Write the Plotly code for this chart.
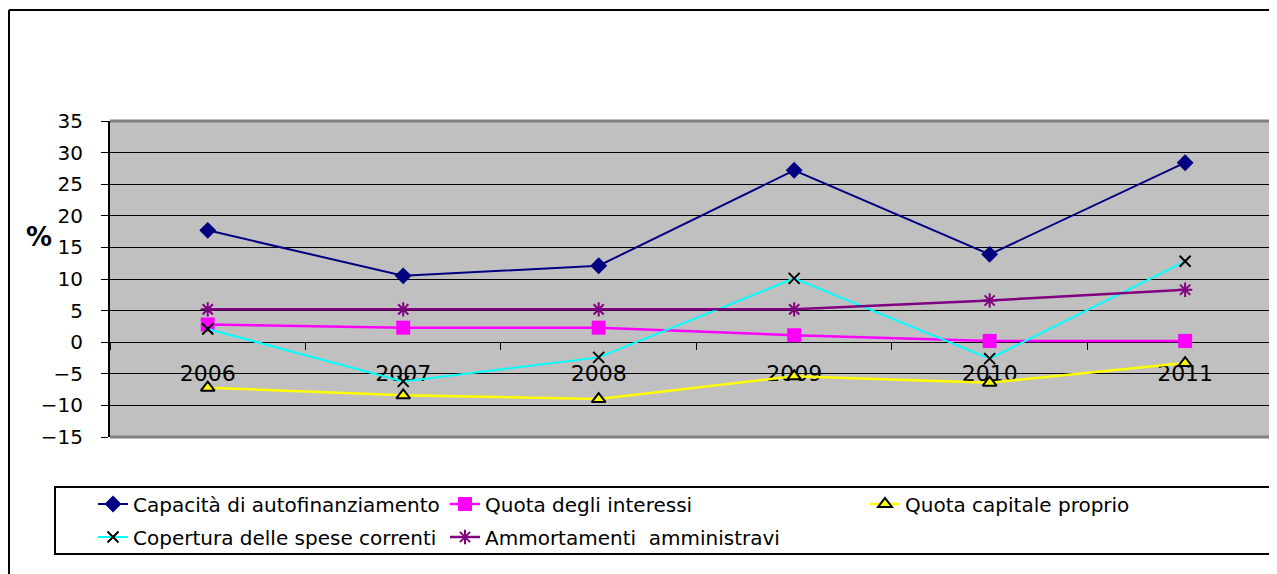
import plotly.graph_objects as go

years = ["2006", "2007", "2008", "2009", "2010", "2011"]
capacita = [17.7, 10.5, 12.1, 27.2, 13.9, 28.4]
quota_interessi = [2.8, 2.3, 2.3, 1.1, 0.2, 0.2]
quota_capitale = [-7.2, -8.4, -9.0, -5.4, -6.4, -3.3]
copertura = [2.1, -6.2, -2.4, 10.1, -2.6, 12.8]
ammortamenti = [5.2, 5.2, 5.2, 5.2, 6.6, 8.3]

y_min, y_max = -15, 35

# the page puts the figure 8px in from the top-left corner of the window
OFF = 8
W, H = 1277 - OFF, 574 - OFF
L, R, T, B = 102, 0, 113, 137
FONT = "DejaVu Sans"


def px(xs):
    return (xs - OFF - L) / (W - L - R)


def py(ys):
    return (H - B - (ys - OFF)) / (H - T - B)


def line_trace(y, name, color, width, symbol, msize, mcolor, mline_color, mline_width, legend):
    return go.Scatter(
        x=years, y=y, name=name, mode="lines+markers",
        line=dict(color=color, width=width),
        marker=dict(symbol=symbol, size=msize, color=mcolor,
                    line=dict(color=mline_color, width=mline_width)),
        legend=legend,
    )


fig = go.Figure()
fig.add_trace(line_trace(capacita, "Capacità di autofinanziamento", "#000080", 2,
                         "diamond", 13, "#000080", "#000080", 0, "legend"))
fig.add_trace(line_trace(quota_interessi, "Quota degli interessi", "#FF00FF", 2.5,
                         "square", 14, "#FF00FF", "#FF00FF", 0, "legend2"))
fig.add_trace(line_trace(quota_capitale, "Quota capitale proprio", "#FFFF00", 2.5,
                         "triangle-up", 12, "#FFFF00", "black", 2, "legend3"))
fig.add_trace(line_trace(copertura, "Copertura delle spese correnti", "#00FFFF", 2,
                         "x-thin-open", 11, "black", "black", 2, "legend4"))
fig.add_trace(line_trace(ammortamenti, "Ammortamenti  amministravi", "#800080", 2.5,
                         "asterisk-open", 12, "#800080", "#800080", 2, "legend5"))

# legend entries placed like the Excel grid (text start x, row centre y), window pixels
leg_pos = {"legend": (133, 504), "legend2": (485, 504), "legend3": (905, 504),
           "legend4": (133, 537), "legend5": (485, 537)}
legends = {}
for k, (tx, ty) in leg_pos.items():
    legends[k] = dict(x=(tx - 40 - OFF) / W, y=1 - (ty - OFF) / H, xref="container", yref="container",
                      xanchor="left", yanchor="middle", bgcolor="rgba(0,0,0,0)",
                      borderwidth=0, font=dict(family=FONT, size=20, color="black"))

shapes = [
    # outer chart border (top and left)
    dict(type="line", xref="paper", yref="paper", x0=px(OFF + 1), x1=px(1285), y0=py(10), y1=py(10),
         line=dict(color="black", width=2)),
    dict(type="line", xref="paper", yref="paper", x0=px(OFF + 1), x1=px(OFF + 1), y0=py(10), y1=py(585),
         line=dict(color="black", width=2)),
    # plot area gray top/bottom edges
    dict(type="line", xref="paper", yref="paper", x0=0, x1=1, y0=1, y1=1,
         line=dict(color="#808080", width=3)),
    dict(type="line", xref="paper", yref="paper", x0=0, x1=1, y0=0, y1=0,
         line=dict(color="#808080", width=3)),
    # legend box
    dict(type="rect", xref="paper", yref="paper", x0=px(55), x1=px(1285), y0=py(487), y1=py(554),
         line=dict(color="black", width=2), fillcolor="rgba(0,0,0,0)"),
]

fig.update_layout(
    width=W, height=H,
    margin=dict(l=L, r=R, t=T, b=B, pad=0, autoexpand=False),
    paper_bgcolor="white", plot_bgcolor="#C0C0C0",
    font=dict(family=FONT, color="black"),
    showlegend=True,
    shapes=shapes,
    annotations=[dict(text="<b>%</b>", xref="paper", yref="paper", x=px(39), y=py(237),
                      xanchor="center", yanchor="middle", showarrow=False,
                      font=dict(family=FONT, size=26, color="black"))],
    **legends,
)

fig.update_xaxes(
    type="category", range=[-0.5, 5.47],
    anchor="free", position=(0 - y_min) / (y_max - y_min),
    showline=True, linecolor="black", linewidth=1,
    ticks="outside", tickson="boundaries", ticklen=7, tickcolor="black",
    ticklabelstandoff=11,
    showgrid=False, layer="below traces",
    tickfont=dict(family=FONT, size=22, color="black"),
)
fig.update_yaxes(
    range=[y_min, y_max], dtick=5,
    showline=True, linecolor="black", linewidth=2,
    ticks="outside", ticklen=7, tickcolor="black",
    ticklabelstandoff=14,
    showgrid=True, gridcolor="black", gridwidth=1,
    zeroline=False,
    tickfont=dict(family=FONT, size=20, color="black"),
)

fig.write_html("out.html")
